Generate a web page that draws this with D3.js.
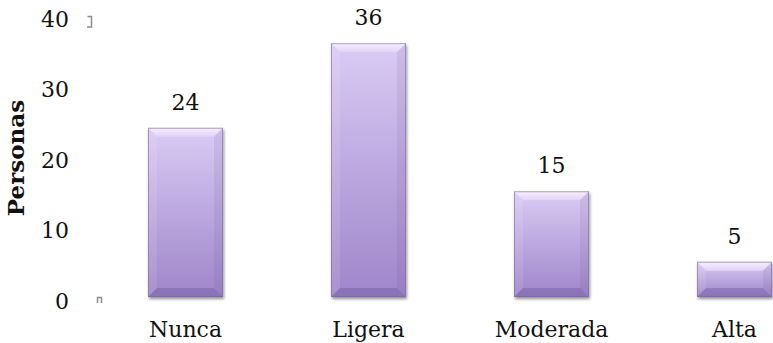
<!DOCTYPE html>
<html>
<head>
<meta charset="utf-8">
<script src="https://cdn.jsdelivr.net/npm/d3@7"></script>
<style>
  html, body { margin: 0; padding: 0; background: #ffffff; }
  svg { display: block; }
  text { font-family: "DejaVu Serif", "Liberation Serif", serif; fill: #111; }
</style>
</head>
<body>
<svg id="chart" width="773" height="343"></svg>
<script>
// Respuestas por categoría
const categories = ["Nunca", "Ligera", "Moderada", "Alta"];
const values = [24, 36, 15, 5];
const yTicks = [0, 10, 20, 30, 40];
const yTitle = "Personas";

const W = 773, H = 343;
const svg = d3.select("#chart");
const FS = 22;

const x = d3.scaleBand().domain(categories).range([94, 826]).paddingInner(0.59).paddingOuter(0.295);
const y = d3.scaleLinear().domain([0, 40]).range([297, 15]);

const defs = svg.append("defs");

// body gradient: light lavender at the top, deeper violet at the base
const body = defs.append("linearGradient").attr("id", "barBody")
  .attr("x1", 0).attr("y1", 0).attr("x2", 0).attr("y2", 1);
body.append("stop").attr("offset", "0%").attr("stop-color", "#dacbf4");
body.append("stop").attr("offset", "100%").attr("stop-color", "#9f85ca");

const topBevel = defs.append("linearGradient").attr("id", "bevelTop")
  .attr("x1", 0).attr("y1", 0).attr("x2", 0).attr("y2", 1);
topBevel.append("stop").attr("offset", "0%").attr("stop-color", "#f8f0fd");
topBevel.append("stop").attr("offset", "100%").attr("stop-color", "#e0d2f6");

const shadow = defs.append("filter").attr("id", "shadow")
  .attr("x", "-20%").attr("y", "-20%").attr("width", "140%").attr("height", "140%");
shadow.append("feGaussianBlur").attr("in", "SourceAlpha").attr("stdDeviation", 1.6).attr("result", "b");
shadow.append("feOffset").attr("in", "b").attr("dx", 1).attr("dy", 1.5).attr("result", "o");
shadow.append("feComponentTransfer").attr("in", "o").attr("result", "s")
  .append("feFuncA").attr("type", "linear").attr("slope", 0.45);
const merge = shadow.append("feMerge");
merge.append("feMergeNode").attr("in", "s");
merge.append("feMergeNode").attr("in", "SourceGraphic");

const bev = 9;
const bars = svg.append("g").selectAll("g.bar")
  .data(categories.map((c, i) => ({ c, v: values[i] })))
  .join("g").attr("class", "bar");

bars.each(function (d) {
  const g = d3.select(this);
  const x0 = x(d.c), w = x.bandwidth();
  const y0 = y(d.v), y1 = y(0), h = y1 - y0;
  const b = Math.min(bev, h / 3);
  g.append("rect").attr("x", x0).attr("y", y0).attr("width", w).attr("height", h)
    .attr("fill", "url(#barBody)").attr("filter", "url(#shadow)");
  // top facet
  g.append("path").attr("d", `M${x0},${y0}L${x0 + w},${y0}L${x0 + w - b},${y0 + b}L${x0 + b},${y0 + b}Z`)
    .attr("fill", "url(#bevelTop)");
  // left facet
  g.append("path").attr("d", `M${x0},${y0}L${x0 + b},${y0 + b}L${x0 + b},${y1 - b}L${x0},${y1}Z`)
    .attr("fill", "#ffffff").attr("opacity", 0.1);
  // right facet
  g.append("path").attr("d", `M${x0 + w},${y0}L${x0 + w - b},${y0 + b}L${x0 + w - b},${y1 - b}L${x0 + w},${y1}Z`)
    .attr("fill", "#5a4480").attr("opacity", 0.1);
  // bottom facet
  g.append("path").attr("d", `M${x0},${y1}L${x0 + b},${y1 - b}L${x0 + w - b},${y1 - b}L${x0 + w},${y1}Z`)
    .attr("fill", "#6f5699").attr("opacity", 0.4);
  // thin edge
  g.append("rect").attr("x", x0 + 0.5).attr("y", y0 + 0.5).attr("width", w - 1).attr("height", h - 1)
    .attr("fill", "none").attr("stroke", "#7d6a9c").attr("stroke-opacity", 0.6).attr("stroke-width", 1);
});

// value labels
svg.append("g").selectAll("text")
  .data(categories.map((c, i) => ({ c, v: values[i] })))
  .join("text")
  .attr("x", d => x(d.c) + x.bandwidth() / 2)
  .attr("y", d => y(d.v) - 18)
  .attr("text-anchor", "middle")
  .attr("font-size", FS)
  .text(d => d.v);

// y axis labels
const yAxis = d3.axisLeft(y).tickValues(yTicks).tickSize(0).tickPadding(0);
const ya = svg.append("g").attr("transform", "translate(69,4)").call(yAxis);
ya.select(".domain").remove();
ya.selectAll("text").attr("font-size", FS).attr("fill", "#111")
  .attr("font-family", "DejaVu Serif, Liberation Serif, serif");

// small gray axis marks
svg.append("path")
  .attr("d", `M87.5,${y(40) + 1.5}H91.5V${y(40) + 12}H87`)
  .attr("fill", "none").attr("stroke", "#8c8c8c").attr("stroke-width", 1.5);
svg.append("path")
  .attr("d", `M97.5,${y(0) + 6}V${y(0) + 0.5}H101.5V${y(0) + 6}`)
  .attr("fill", "none").attr("stroke", "#8c8c8c").attr("stroke-width", 1.5);

// x axis labels
const xAxis = d3.axisBottom(x).tickSize(0).tickPadding(0);
const xa = svg.append("g").attr("transform", `translate(0,${y(0) + 24})`).call(xAxis);
xa.select(".domain").remove();
xa.selectAll("text").attr("font-size", FS).attr("fill", "#111")
  .attr("font-family", "DejaVu Serif, Liberation Serif, serif");

// y title
svg.append("text")
  .attr("transform", `translate(24,${(y(0) + y(40)) / 2 + 2}) rotate(-90)`)
  .attr("text-anchor", "middle")
  .attr("font-size", 23).attr("font-weight", "bold")
  .text(yTitle);
</script>
</body>
</html>
